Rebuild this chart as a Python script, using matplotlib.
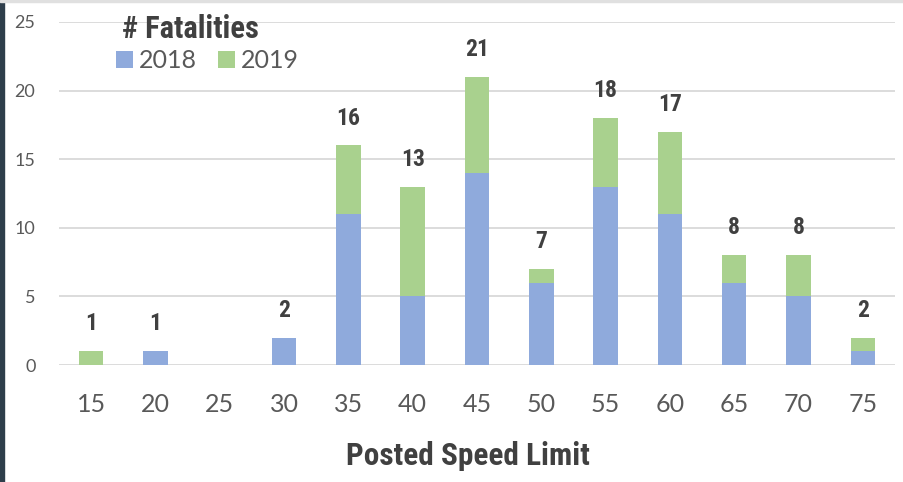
import numpy as np
import matplotlib.pyplot as plt
from matplotlib.patches import Rectangle

# data
speeds = ['15', '20', '25', '30', '35', '40', '45', '50', '55', '60', '65', '70', '75']
fat_2018 = [0, 1, 0, 2, 11, 5, 14, 6, 13, 11, 6, 5, 1]
fat_2019 = [1, 0, 0, 0, 5, 8, 7, 1, 5, 6, 2, 3, 1]
yticks = [0, 5, 10, 15, 20, 25]

blue = '#8FAADC'
green = '#A9D18E'
grey_txt = '#595959'
dark_txt = '#404040'
cond = dict(family=['Roboto Condensed', 'Liberation Sans'], weight='bold')

fig = plt.figure(figsize=(9.04, 4.82), dpi=100)
W, H = 904.0, 482.0
# plot area in pixels: x 59..895, y 22..365 (from top)
ax = fig.add_axes([59 / W, (H - 365) / H, 836 / W, 343 / H])

x = np.arange(len(speeds))
b1 = ax.bar(x, fat_2018, width=0.38, color=blue, zorder=3)
b2 = ax.bar(x, fat_2019, width=0.38, bottom=fat_2018, color=green, zorder=3)

totals = [a + b for a, b in zip(fat_2018, fat_2019)]
for xi, t in zip(x, totals):
    if t == 0:
        continue
    ax.annotate(str(t), (xi, t), xytext=(0, 15), textcoords='offset points',
                ha='center', va='baseline', fontsize=17, color=dark_txt, **cond)

ax.set_xlim(-0.5, 12.5)
ax.set_ylim(0, 25)
ax.set_yticks(yticks)
ax.set_xticks(x)
ax.set_xticklabels(speeds)
ax.grid(axis='y', color='#D9D9D9', linewidth=1.3, zorder=0)
for s in ax.spines.values():
    s.set_visible(False)
ax.tick_params(axis='both', length=0)
ax.tick_params(axis='y', labelsize=13, labelcolor=grey_txt, pad=17)
ax.tick_params(axis='x', labelsize=18, labelcolor=grey_txt, pad=20)
for lab in ax.get_xticklabels() + ax.get_yticklabels():
    lab.set_family('Lato')

ax.set_xlabel('Posted Speed Limit', fontsize=22.5, color=dark_txt, labelpad=18, **cond)
ax.xaxis.label.set_x((467.5 - 59) / 836)

# title + legend in the top left corner
fig.text(190 / W, 1 - 29 / H, '# Fatalities', ha='center', va='center',
         fontsize=22, color=dark_txt, **cond)
fig.legend([b1, b2], ['2018', '2019'], loc='center left',
           bbox_to_anchor=(104 / W, 1 - 61 / H), ncol=2, frameon=False,
           handlelength=0.65, handleheight=0.65,
           handletextpad=0.25, columnspacing=0.85, borderpad=0,
           labelcolor=grey_txt, prop={'family': 'Lato', 'size': 18})

# dark strip on the left edge and light line at the top
fig.patches.append(Rectangle((0, 0), 4 / W, 1, transform=fig.transFigure,
                             color='#2E3E4B', zorder=5))
fig.patches.append(Rectangle((0, 1 - 2 / H), 1, 2 / H, transform=fig.transFigure,
                             color='#E0E0E0', zorder=5))

plt.savefig('out.png', dpi=100)
